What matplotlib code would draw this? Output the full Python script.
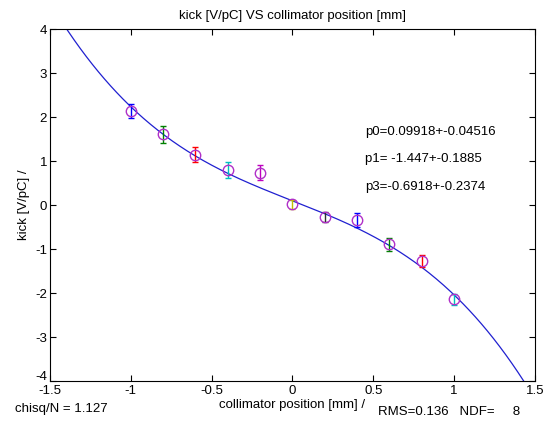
import numpy as np
import matplotlib
matplotlib.use("Agg")
import matplotlib.pyplot as plt
import matplotlib.transforms as mtransforms

plt.rcParams['font.family'] = ['Liberation Sans', 'DejaVu Sans']
plt.rcParams['font.size'] = 9.5
plt.rcParams['axes.unicode_minus'] = False

positions = [-1.0, -0.8, -0.6, -0.4, -0.2, 0.0, 0.2, 0.4, 0.6, 0.8, 1.0]
kicks = [2.14, 1.61, 1.14, 0.80, 0.73, 0.02, -0.27, -0.34, -0.89, -1.27, -2.14]
errors = [0.15, 0.19, 0.17, 0.18, 0.17, 0.10, 0.12, 0.15, 0.15, 0.14, 0.13]
# error bar colours cycle like matlab's b g r c m y k
bar_colors = ['#0000ff', '#008000', '#ff0000', '#00bfbf', '#bf00bf', '#bfbf00',
              '#303030', '#0000ff', '#008000', '#ff0000', '#00bfbf']

# fit parameters: kick = p0 + p1*x + p3*x^3
p0 = 0.09918
p1 = -1.447
p3 = -0.6918
fit_labels = ['p0=0.09918+-0.04516', 'p1= -1.447+-0.1885', 'p3=-0.6918+-0.2374']

fig = plt.figure(figsize=(5.48, 4.22), dpi=100)
ax = fig.add_axes([0.091, 0.097, 0.885, 0.834])

xs = np.linspace(-1.5, 1.5, 400)
ax.plot(xs, p0 + p1 * xs + p3 * xs ** 3, color='#2020d0', lw=0.9)

for x, y, e, c in zip(positions, kicks, errors, bar_colors):
    ax.errorbar(x, y, yerr=e, fmt='none', ecolor=c, elinewidth=1.0, capsize=2.5)
ax.plot(positions, kicks, 'o', mfc='none', mec='#b030c8', ms=7.5, mew=1.0)

for i, lab in enumerate(fit_labels):
    ax.text(0.45, 1.66 - 0.62 * i, lab, ha='left', va='center')

ax.set_xlim(-1.5, 1.5)
ax.set_ylim(-4, 4)
ax.set_xticks([-1.5, -1, -0.5, 0, 0.5, 1, 1.5])
ax.set_xticklabels(['-1.5', '-1', '-0.5', '0', '0.5', '1', '1.5'])
ax.set_yticks(range(-4, 5))
ax.tick_params(direction='in', top=True, right=True, length=4, pad=2)
ax.tick_params(axis='x', pad=3)
for s in ax.spines.values():
    s.set_linewidth(0.8)

# lift the lowest y label a little, as in the reference
lowest = ax.get_yticklabels()[0]
lowest.set_transform(lowest.get_transform() +
                     mtransforms.ScaledTranslation(0, 4 / 72, fig.dpi_scale_trans))

ax.set_title('kick [V/pC] VS collimator position [mm]', fontsize=9.5, pad=7)
ax.set_ylabel('kick [V/pC] /', labelpad=4)
fig.text(0.533, 0.04, 'collimator position [mm] /', ha='center', va='center')
fig.text(0.027, 0.03, 'chisq/N = 1.127', ha='left', va='center')
fig.text(0.69, 0.023, 'RMS=0.136   NDF=     8', ha='left', va='center')

fig.savefig('out.png', dpi=100)
